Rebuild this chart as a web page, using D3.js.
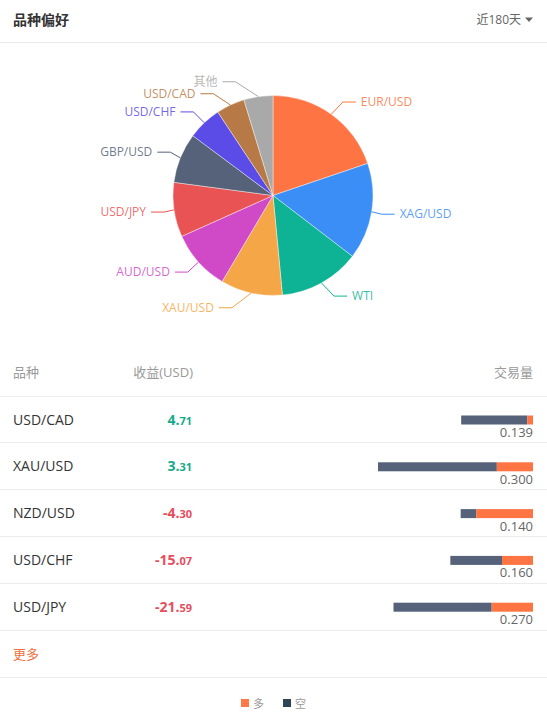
<!DOCTYPE html>
<html><head><meta charset="utf-8">
<script src="https://cdn.jsdelivr.net/npm/d3@7"></script>
<style>
html,body{margin:0;padding:0;background:#fff;}
svg{display:block;font-family:"Open Sans","Noto Sans CJK SC",sans-serif;}
</style></head>
<body><svg id="c" width="547" height="714"></svg>
<script>
// ---- data ----
const pieNames  = ["EUR/USD","XAG/USD","WTI","XAU/USD","AUD/USD","USD/JPY","GBP/USD","USD/CHF","USD/CAD","其他"];
const pieShares = [19.8, 15.6, 13.1, 10.0, 9.8, 8.8, 8.1, 5.5, 4.6, 4.7];
const pieColors = ["#fe7442","#3a8ef5","#0eb294","#f5a646","#d04ac8","#e95353","#55627a","#5b4be7","#b77a46","#a9a9a9"];

const symbols   = ["USD/CAD","XAU/USD","NZD/USD","USD/CHF","USD/JPY"];
const profits   = [4.71, 3.31, -4.30, -15.07, -21.59];
const longVol   = [0.011, 0.070, 0.110, 0.060, 0.080];
const shortVol  = [0.128, 0.230, 0.030, 0.100, 0.190];

const headerTitle = "品种偏好";
const periodLabel = "近180天";
const colHeaders  = ["品种","收益(USD)","交易量"];
const moreLabel   = "更多";
const legendNames = ["多","空"];

// ---- drawing ----
const svg = d3.select("#c");
const W = 547;

// header
svg.append("text").attr("x",13).attr("y",25).attr("font-size",14).attr("font-weight","bold")
  .attr("fill","#333").attr("font-family","'Noto Sans CJK SC',sans-serif").text(headerTitle);
svg.append("text").attr("x",521).attr("y",24).attr("text-anchor","end").attr("font-size",12)
  .attr("fill","#666").text(periodLabel);
svg.append("path").attr("d","M525,17.5 L533,17.5 L529,22 Z").attr("fill","#666");
svg.append("line").attr("x1",0).attr("x2",W).attr("y1",42.5).attr("y2",42.5).attr("stroke","#e8e8e8");

// pie
const cx = 273, cy = 195.5, R = 100;
const pie = d3.pie().sort(null).value(d=>d)(pieShares);
const arc = d3.arc().innerRadius(0).outerRadius(R);
const g = svg.append("g").attr("transform",`translate(${cx},${cy})`);
g.selectAll("path.s").data(pie).join("path").attr("class","s")
  .attr("d",arc).attr("fill",(d,i)=>pieColors[i]).attr("stroke","#fff").attr("stroke-width",0.4);

// labels (echarts-like layout)
const len = 15, len2 = 13, rA = 110, rB = 121;
const items = pie.map((d,i)=>{
  const a = (d.startAngle+d.endAngle)/2;
  const dx = Math.sin(a), dy = -Math.cos(a);
  return {i, a, dx, dy, x1: dx*R, y1: dy*R, y: dy*(R+len), side: dx>=0?1:-1};
});
[1,-1].forEach(side=>{
  const list = items.filter(t=>t.side===side).sort((p,q)=>p.y-q.y);
  for(let k=1;k<list.length;k++){ if(list[k].y < list[k-1].y+12) list[k].y = list[k-1].y+12; }
});
items.forEach(t=>{
  const ddy = Math.min(Math.abs(t.y), rB-0.01);
  t.x2 = t.side*rA*Math.sqrt(1-(ddy*ddy)/(rB*rB));
  t.x3 = t.x2 + t.side*len2;
});
g.selectAll("polyline").data(items).join("polyline")
  .attr("points",t=>`${t.x1},${t.y1} ${t.x2},${t.y} ${t.x3},${t.y}`)
  .attr("fill","none").attr("stroke",t=>pieColors[t.i]).attr("stroke-width",1);
g.selectAll("text.l").data(items).join("text").attr("class","l")
  .attr("x",t=>t.x3 + t.side*5).attr("y",t=>t.y).attr("dy","0.35em")
  .attr("text-anchor",t=>t.side>0?"start":"end").attr("font-size",12)
  .attr("fill",t=>pieColors[t.i]).attr("fill-opacity",0.85)
  .text(t=>pieNames[t.i]);

// table header
const hY = 377;
svg.append("text").attr("x",13).attr("y",hY).attr("font-size",13).attr("fill","#999").text(colHeaders[0]);
svg.append("text").attr("x",193).attr("y",hY).attr("text-anchor","end").attr("font-size",13).attr("fill","#999").text(colHeaders[1]);
svg.append("text").attr("x",533).attr("y",hY).attr("text-anchor","end").attr("font-size",13).attr("fill","#999").text(colHeaders[2]);

const rowTop = 395.5, rowH = 46.8;
const rows = d3.range(symbols.length);
const totals = rows.map(i=>longVol[i]+shortVol[i]);
const xs = d3.scaleLinear().domain([0, d3.max(totals)]).range([0,155]);

svg.selectAll("line.rl").data(d3.range(symbols.length+1)).join("line").attr("class","rl")
  .attr("x1",0).attr("x2",W).attr("y1",k=>Math.round(rowTop+k*rowH)+0.5).attr("y2",k=>Math.round(rowTop+k*rowH)+0.5)
  .attr("stroke","#ececec");

const rg = svg.selectAll("g.row").data(rows).join("g").attr("class","row")
  .attr("transform",i=>`translate(0,${rowTop+i*rowH})`);
rg.append("text").attr("x",13).attr("y",29).attr("font-size",14).attr("fill","#333").text(i=>symbols[i]);
const pt = rg.append("text").attr("x",192).attr("y",29).attr("text-anchor","end").attr("font-weight","bold")
  .attr("fill",i=>profits[i]>=0?"#16a98b":"#e54e5c");
pt.append("tspan").attr("font-size",14).text(i=>{const s=profits[i].toFixed(2);return s.slice(0,s.indexOf(".")+1);});
pt.append("tspan").attr("font-size",11).text(i=>{const s=profits[i].toFixed(2);return s.slice(s.indexOf(".")+1);});
// bars: short (dark) on left, long (orange) on right
rg.append("rect").attr("x",i=>533-xs(totals[i])).attr("y",20).attr("height",9)
  .attr("width",i=>xs(shortVol[i])).attr("fill","#55627a");
rg.append("rect").attr("x",i=>533-xs(longVol[i])).attr("y",20).attr("height",9)
  .attr("width",i=>xs(longVol[i])).attr("fill","#fe7442");
rg.append("text").attr("x",533).attr("y",41.5).attr("text-anchor","end").attr("font-size",13)
  .attr("fill","#666").text(i=>totals[i].toFixed(3));

// more
svg.append("text").attr("x",13).attr("y",659).attr("font-size",13).attr("fill","#f0703f").text(moreLabel);
svg.append("line").attr("x1",0).attr("x2",W).attr("y1",677.5).attr("y2",677.5).attr("stroke","#ececec");

// legend
const lg = svg.append("g").attr("transform","translate(241,699)");
const legColors = ["#ff7a45","#2f4554"];
legendNames.forEach((n,k)=>{
  lg.append("rect").attr("x",k*42).attr("y",0).attr("width",8).attr("height",8).attr("fill",legColors[k]);
  lg.append("text").attr("x",k*42+12).attr("y",8.5).attr("font-size",11).attr("fill","#999").text(n);
});
</script></body></html>
